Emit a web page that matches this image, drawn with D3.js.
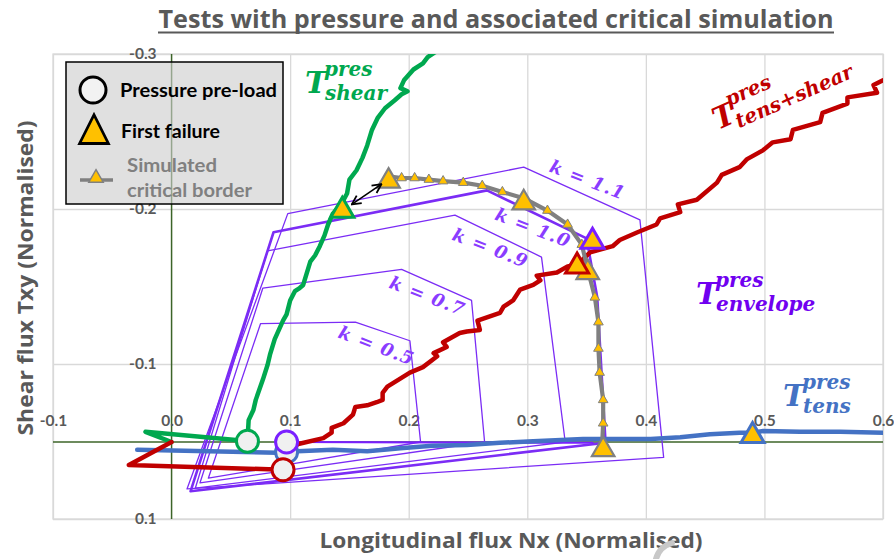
<!DOCTYPE html>
<html>
<head>
<meta charset="utf-8">
<script src="https://cdn.jsdelivr.net/npm/d3@7"></script>
<style>
  body { margin: 0; background: #fff; }
  svg { font-family: Lato, "Open Sans", sans-serif; }
  .math { font-family: "DejaVu Serif", serif; font-style: italic; font-weight: bold; }
  .heading { font-family: "Open Sans", sans-serif; font-weight: bold; fill: #595959; }
</style>
</head>
<body>
<div id="chart"></div>
<script>
// ---------- data (normalised units) ----------
const xTicks = [-0.1, 0.0, 0.1, 0.2, 0.3, 0.4, 0.5, 0.6];
const yTicks = [-0.3, -0.2, -0.1, 0.1];

// T shear (green)
const shearNx  = [0, -0.022, 0.052, 0.064, 0.065, 0.069, 0.071, 0.077, 0.081, 0.083, 0.087, 0.094, 0.097, 0.100, 0.104, 0.108, 0.111, 0.117, 0.121, 0.125, 0.129, 0.132, 0.136, 0.143, 0.148, 0.150, 0.156, 0.161, 0.165, 0.169, 0.174, 0.180, 0.188, 0.194, 0.199, 0.193, 0.196, 0.204, 0.212, 0.216, 0.222];
const shearTxy = [0, -0.013, -0.003, -0.001, -0.028, -0.041, -0.054, -0.080, -0.099, -0.106, -0.116, -0.128, -0.132, -0.141, -0.147, -0.149, -0.151, -0.166, -0.170, -0.176, -0.183, -0.190, -0.197, -0.203, -0.210, -0.219, -0.225, -0.233, -0.241, -0.251, -0.259, -0.265, -0.270, -0.274, -0.276, -0.278, -0.283, -0.290, -0.294, -0.298, -0.301];

// T tens+shear (red)
const tsNx  = [0, -0.036, 0.094, 0.106, 0.128, 0.135, 0.135, 0.145, 0.153, 0.155, 0.165, 0.173, 0.178, 0.178, 0.182, 0.201, 0.212, 0.224, 0.221, 0.232, 0.229, 0.243, 0.249, 0.260, 0.258, 0.277, 0.280, 0.288, 0.294, 0.305, 0.311, 0.308, 0.325, 0.334, 0.342, 0.353, 0.372, 0.378, 0.393, 0.409, 0.412, 0.429, 0.427, 0.443, 0.460, 0.464, 0.479, 0.485, 0.499, 0.507, 0.522, 0.524, 0.547, 0.549, 0.570, 0.570, 0.595, 0.592, 0.600];
const tsTxy = [0, 0.030, 0.036, 0.003, -0.005, -0.012, -0.018, -0.024, -0.035, -0.045, -0.047, -0.051, -0.054, -0.063, -0.071, -0.089, -0.096, -0.105, -0.107, -0.111, -0.114, -0.120, -0.121, -0.122, -0.128, -0.133, -0.137, -0.141, -0.148, -0.151, -0.154, -0.157, -0.159, -0.163, -0.164, -0.172, -0.176, -0.180, -0.185, -0.190, -0.194, -0.198, -0.203, -0.206, -0.217, -0.222, -0.227, -0.232, -0.238, -0.243, -0.245, -0.251, -0.256, -0.262, -0.268, -0.272, -0.275, -0.280, -0.283];

// T tens (blue)
const tensNx  = [-0.029, 0.089, 0.097, 0.106, 0.136, 0.165, 0.193, 0.220, 0.249, 0.277, 0.305, 0.347, 0.404, 0.429, 0.454, 0.479, 0.490, 0.499, 0.530, 0.564, 0.600];
const tensTxy = [0.010, 0.014, 0.013, 0.012, 0.010, 0.012, 0.008, 0.005, 0.004, 0.001, -0.001, -0.004, -0.004, -0.006, -0.010, -0.012, -0.012, -0.014, -0.013, -0.013, -0.012];

// T envelope (purple) load path
const envPathNx  = [0.097, 0.355];
const envPathTxy = [0.000, 0.001];

// pressure pre-load and first failure, order: shear, tens+shear, tens, envelope
const preNx   = [0.064, 0.094, 0.097, 0.097];
const preTxy  = [-0.001, 0.036, 0.013, 0.000];
const failNx  = [0.144, 0.342, 0.490, 0.355];
const failTxy = [-0.199, -0.163, -0.008, -0.179];

// simulated critical border
const simNx  = [0.183, 0.194, 0.205, 0.217, 0.229, 0.246, 0.262, 0.279, 0.297, 0.317, 0.334, 0.346, 0.351, 0.357, 0.360, 0.360, 0.361, 0.364, 0.364, 0.363];
const simTxy = [-0.221, -0.220, -0.220, -0.219, -0.218, -0.217, -0.215, -0.211, -0.207, -0.199, -0.190, -0.177, -0.161, -0.143, -0.127, -0.110, -0.089, -0.054, -0.024, 0.006];
const simFailNx  = [0.183, 0.297, 0.351, 0.364];
const simFailTxy = [-0.218, -0.204, -0.159, 0.010];

// k envelopes
const envK = ["k = 0.5", "k = 0.7", "k = 0.9", "k = 1.0", "k = 1.1"];
const envNx = [
  [0.075, 0.155, 0.201, 0.210, 0.031],
  [0.077, 0.194, 0.253, 0.264, 0.024],
  [0.081, 0.239, 0.312, 0.332, 0.020],
  [0.086, 0.266, 0.350, 0.359, 0.366, 0.016],
  [0.098, 0.297, 0.395, 0.415, 0.013]
];
const envTxy = [
  [-0.126, -0.127, -0.115, 0.000, 0.047],
  [-0.149, -0.161, -0.141, 0.000, 0.053],
  [-0.173, -0.196, -0.169, 0.000, 0.060],
  [-0.185, -0.212, -0.181, -0.143, 0.001, 0.064],
  [-0.197, -0.227, -0.193, 0.020, 0.061]
];
const envLabelNx  = [0.173, 0.216, 0.269, 0.305, 0.351];
const envLabelTxy = [-0.112, -0.144, -0.175, -0.188, -0.219];

// ---------- setup ----------
const width = 894, height = 559;
const L = 53, R = 883, T = 54, B = 519;

const svg = d3.select("#chart").append("svg")
  .attr("width", width).attr("height", height)
  .style("background", "#fff");

const x = d3.scaleLinear().domain([-0.1, 0.6]).range([L, R]);
// vertical axis is not evenly spaced in the original
const y = d3.scaleLinear().domain([-0.3, -0.1, 0, 0.1]).range([T, 364, 442, B]);

const green = "#00A84F", red = "#C00000", blue = "#4472C4", purple = "#7A1FFF",
      envColor = "#7B2CF5", grey = "#808080", gold = "#FFC000", axisGreen = "#3C6428";

const defs = svg.append("defs");
defs.append("clipPath").attr("id", "plot")
  .append("rect").attr("x", L).attr("y", T).attr("width", R - L).attr("height", B - T);
defs.append("marker").attr("id", "head")
  .attr("viewBox", "0 0 10 10").attr("refX", 9).attr("refY", 5)
  .attr("markerWidth", 7).attr("markerHeight", 7).attr("orient", "auto-start-reverse")
  .append("path").attr("d", "M1,1 L9,5 L1,9").attr("fill", "none").attr("stroke", "#000").attr("stroke-width", 1.6);

// title
svg.append("text").attr("class", "heading").attr("x", 496).attr("y", 28).attr("text-anchor", "middle")
  .attr("font-size", 25)
  .attr("textLength", 675).attr("lengthAdjust", "spacingAndGlyphs")
  .text("Tests with pressure and associated critical simulation");
svg.append("line").attr("x1", 158).attr("x2", 834).attr("y1", 32.5).attr("y2", 32.5)
  .attr("stroke", "#595959").attr("stroke-width", 2);

// gridlines
svg.append("g").attr("transform", `translate(0,${B})`)
  .call(d3.axisBottom(x).tickValues(xTicks.filter(d => d !== 0)).tickSize(-(B - T)).tickFormat(""))
  .call(g => g.select(".domain").remove())
  .selectAll("line").attr("stroke", "#D9D9D9").attr("stroke-width", 1.3);
svg.append("g").attr("transform", `translate(${L},0)`)
  .call(d3.axisLeft(y).tickValues(yTicks).tickSize(-(R - L)).tickFormat(""))
  .call(g => g.select(".domain").remove())
  .selectAll("line").attr("stroke", "#D9D9D9").attr("stroke-width", 1.3);
svg.append("rect").attr("x", L).attr("y", T).attr("width", R - L).attr("height", B - T)
  .attr("fill", "none").attr("stroke", "#D9D9D9").attr("stroke-width", 1.3);

// axis lines through zero
svg.append("line").attr("x1", x(0)).attr("x2", x(0)).attr("y1", T).attr("y2", B)
  .attr("stroke", axisGreen).attr("stroke-width", 1.5);
svg.append("line").attr("x1", L).attr("x2", R).attr("y1", y(0)).attr("y2", y(0))
  .attr("stroke", axisGreen).attr("stroke-width", 1.5);

// tick labels
const fmt = d => d.toFixed(1);
svg.append("g").attr("transform", `translate(0,${y(0)})`)
  .call(d3.axisTop(x).tickValues(xTicks).tickSize(0).tickPadding(16).tickFormat(fmt))
  .call(g => g.select(".domain").remove())
  .selectAll("text").style("font-family", "Lato, sans-serif").attr("font-size", 15.5)
  .attr("font-weight", "bold").attr("fill", "#595959");
svg.append("g").attr("transform", `translate(${x(0)},0)`)
  .call(d3.axisLeft(y).tickValues(yTicks).tickSize(0).tickPadding(15).tickFormat(fmt))
  .call(g => g.select(".domain").remove())
  .selectAll("text").style("font-family", "Lato, sans-serif").attr("font-size", 15.5)
  .attr("font-weight", "bold").attr("fill", "#595959");

// axis titles
svg.append("text").attr("class", "heading").attr("x", 511).attr("y", 548).attr("text-anchor", "middle")
  .attr("font-size", 22)
  .attr("textLength", 383).attr("lengthAdjust", "spacingAndGlyphs")
  .text("Longitudinal flux Nx (Normalised)");
svg.append("text").attr("class", "heading").attr("transform", "translate(33,278) rotate(-90)").attr("text-anchor", "middle")
  .attr("font-size", 22)
  .attr("textLength", 315).attr("lengthAdjust", "spacingAndGlyphs")
  .text("Shear flux Txy (Normalised)");

const plot = svg.append("g").attr("clip-path", "url(#plot)");
const line = d3.line().x(d => x(d[0])).y(d => y(d[1]));
const pts = (a, b) => a.map((v, i) => [v, b[i]]);

// k envelopes
envNx.forEach((nx, i) => {
  plot.append("path")
    .attr("d", line(pts(nx, envTxy[i])) + "Z")
    .attr("fill", "none").attr("stroke", envColor)
    .attr("stroke-width", envK[i] === "k = 1.0" ? 2.6 : 1.3)
    .attr("stroke-linejoin", "round");
});
envK.forEach((k, i) => {
  svg.append("text").attr("class", "math")
    .attr("transform", `translate(${x(envLabelNx[i])},${y(envLabelTxy[i])}) rotate(21)`)
    .attr("text-anchor", "middle").attr("dominant-baseline", "central")
    .attr("font-size", 18).attr("letter-spacing", 1.2).attr("fill", "#8A3CFF")
    .text(k);
});

// test curves
const curve = (nx, txy, color, w) => plot.append("path")
  .attr("d", line(pts(nx, txy))).attr("fill", "none").attr("stroke", color)
  .attr("stroke-width", w).attr("stroke-linejoin", "round").attr("stroke-linecap", "round");

curve(envPathNx, envPathTxy, purple, 2.2);
curve(tensNx, tensTxy, blue, 4.5);
curve(shearNx, shearTxy, green, 4.5);
curve(tsNx, tsTxy, red, 4.5);
curve(simNx, simTxy, grey, 4.2);

// simulated small triangles
const tri = d3.symbol().type(d3.symbolTriangle);
plot.selectAll(".simSmall").data(pts(simNx, simTxy)).join("path")
  .attr("transform", d => `translate(${x(d[0])},${y(d[1])})`)
  .attr("d", tri.size(40)()).attr("fill", gold).attr("stroke", grey).attr("stroke-width", 1);

// pre-load circles: blue, purple, green, red order for overlap
const testColors = [green, red, blue, purple];
[2, 3, 0, 1].forEach(i => {
  svg.append("circle").attr("cx", x(preNx[i])).attr("cy", y(preTxy[i])).attr("r", 11)
    .attr("fill", "#F0F0F0").attr("stroke", testColors[i]).attr("stroke-width", 3);
});

// simulated big triangles
simFailNx.forEach((v, i) => {
  svg.append("path").attr("transform", `translate(${x(v)},${y(simFailTxy[i])})`)
    .attr("d", tri.size(220)()).attr("fill", gold).attr("stroke", grey).attr("stroke-width", 2.2);
});

// first failure triangles
[2, 3, 0, 1].forEach(i => {
  svg.append("path").attr("transform", `translate(${x(failNx[i])},${y(failTxy[i])})`)
    .attr("d", tri.size(230)()).attr("fill", gold).attr("stroke", testColors[i]).attr("stroke-width", 3);
});

// arrow between test and simulation
svg.append("line")
  .attr("x1", x(0.152)).attr("y1", y(-0.203)).attr("x2", x(0.177)).attr("y2", y(-0.216))
  .attr("stroke", "#000").attr("stroke-width", 1.6)
  .attr("marker-start", "url(#head)").attr("marker-end", "url(#head)");

// curve labels  T^pres_sub
function tLabel(px, py, color, sub, rot) {
  const g = svg.append("g").attr("transform", `translate(${px},${py}) rotate(${rot})`).attr("fill", color);
  g.append("text").attr("class", "math").attr("font-size", 30).text("T");
  g.append("text").attr("class", "math").attr("x", 19).attr("y", -17).attr("font-size", 20).text("pres");
  g.append("text").attr("class", "math").attr("x", 20).attr("y", 7).attr("font-size", 20).text(sub);
}
tLabel(305, 93, green, "shear", 0);
tLabel(696, 304, "#7000F0", "envelope", 0);
tLabel(783, 406, blue, "tens", 0);
tLabel(718, 130, red, "tens+shear", -24);

// faint stroke near bottom
svg.append("path").attr("d", "M656,559 Q659,547 672,543")
  .attr("fill", "none").attr("stroke", "#C8C8C8").attr("stroke-width", 6).attr("stroke-linecap", "round");

// legend
const lg = svg.append("g");
lg.append("rect").attr("x", 66).attr("y", 62).attr("width", 217).attr("height", 142)
  .attr("fill", "rgba(205,205,205,0.62)").attr("stroke", "#000").attr("stroke-width", 1.5);
lg.append("circle").attr("cx", 93).attr("cy", 90).attr("r", 13)
  .attr("fill", "#F2F2F2").attr("stroke", "#000").attr("stroke-width", 3);
lg.append("text").attr("x", 120).attr("y", 97).attr("font-size", 19.5).attr("font-weight", "bold")
  .attr("fill", "#000").attr("textLength", 157).attr("lengthAdjust", "spacingAndGlyphs")
  .text("Pressure pre-load");
lg.append("path").attr("transform", "translate(94,134) scale(1,1.15)")
  .attr("d", tri.size(360)()).attr("fill", gold).attr("stroke", "#000").attr("stroke-width", 2.6);
lg.append("text").attr("x", 121).attr("y", 138).attr("font-size", 19.5).attr("font-weight", "bold")
  .attr("fill", "#000").attr("textLength", 99).attr("lengthAdjust", "spacingAndGlyphs")
  .text("First failure");
lg.append("line").attr("x1", 80).attr("x2", 113).attr("y1", 180).attr("y2", 180)
  .attr("stroke", grey).attr("stroke-width", 3.5);
lg.append("path").attr("transform", "translate(96,178)")
  .attr("d", tri.size(90)()).attr("fill", gold).attr("stroke", grey).attr("stroke-width", 1.5);
lg.append("text").attr("x", 127).attr("y", 172).attr("font-size", 19.5).attr("font-weight", "bold")
  .attr("fill", grey).attr("textLength", 90).attr("lengthAdjust", "spacingAndGlyphs")
  .text("Simulated");
lg.append("text").attr("x", 127).attr("y", 197).attr("font-size", 19.5).attr("font-weight", "bold")
  .attr("fill", grey).attr("textLength", 125).attr("lengthAdjust", "spacingAndGlyphs")
  .text("critical border");
</script>
</body>
</html>
